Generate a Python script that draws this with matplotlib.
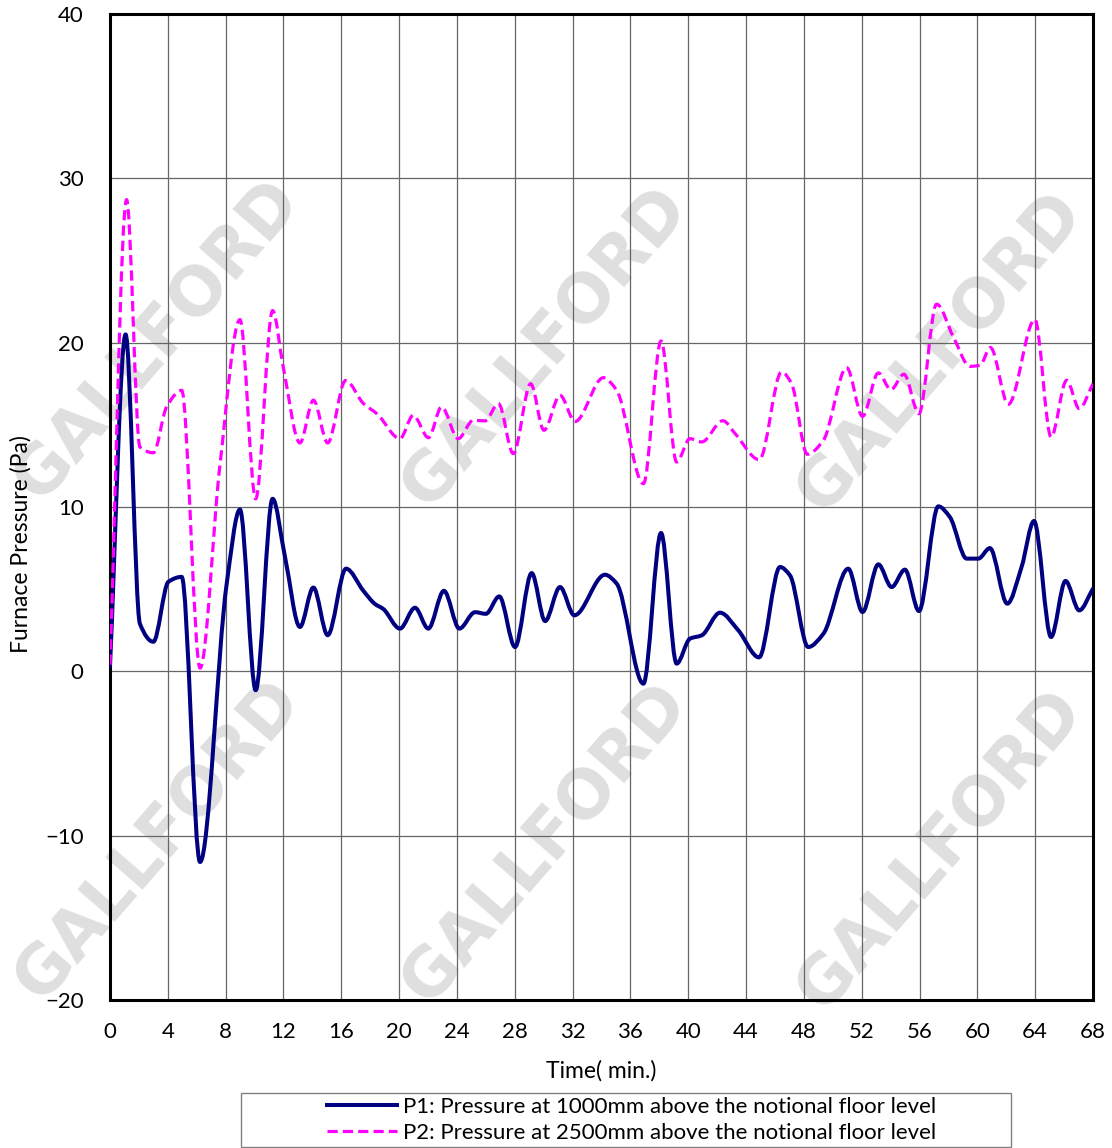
import numpy as np
import matplotlib
matplotlib.use('Agg')
from matplotlib import pyplot as plt
from matplotlib.path import Path
from matplotlib.patches import PathPatch, Rectangle
from matplotlib.lines import Line2D

plt.rcParams['font.family'] = ['Lato', 'DejaVu Sans']

# values (time in min, pressure in Pa)
t_p1 = [0.0, 1.08, 2.07, 3.0, 4.04, 4.96, 6.23, 8.07, 8.99, 10.08, 11.25, 12.1,
        13.14, 14.07, 15.06, 16.33, 17.53, 18.33, 18.9, 20.06, 21.1, 22.02, 23.1,
        24.17, 25.25, 26.0, 26.93, 28.02, 29.17, 30.1, 31.13, 32.12, 34.24, 35.05,
        36.9, 38.12, 39.2, 40.12, 40.93, 42.2, 43.46, 44.9, 46.35, 47.04, 48.3,
        49.35, 51.07, 52.06, 53.15, 54.07, 54.99, 55.96, 57.3, 58.1, 59.26, 60.07,
        60.87, 62.07, 63.06, 63.92, 65.1, 66.1, 67.05, 68.0]
p1 = [0.3, 20.5, 2.9, 1.8, 5.45, 5.75, -11.6, 5.3, 9.85, -1.15, 10.5, 7.0,
      2.7, 5.1, 2.2, 6.25, 4.9, 4.1, 3.8, 2.6, 3.87, 2.6, 4.9,
      2.6, 3.6, 3.5, 4.56, 1.48, 5.98, 3.06, 5.13, 3.41, 5.88, 5.34,
      -0.75, 8.42, 0.47, 1.99, 2.19, 3.57, 2.5, 0.85, 6.35, 5.84, 1.48,
      2.29, 6.25, 3.61, 6.51, 5.13, 6.19, 3.67, 10.04, 9.39, 6.86, 6.86,
      7.5, 4.12, 6.35, 9.15, 2.09, 5.5, 3.71, 5.03]

t_p2 = [0.0, 1.15, 2.07, 3.0, 3.92, 4.96, 6.23, 7.6, 8.99, 10.08, 11.25, 11.99,
        13.14, 14.07, 15.06, 16.3, 17.53, 18.5, 20.06, 20.98, 22.03, 22.94, 24.09,
        25.13, 25.94, 26.87, 27.9, 29.1, 30.02, 31.13, 32.17, 34.13, 35.05, 36.9,
        38.12, 39.2, 40.12, 40.93, 42.4, 43.24, 44.92, 46.46, 47.15, 48.24, 49.35,
        50.96, 52.06, 53.15, 54.02, 54.92, 55.96, 57.18, 58.34, 59.49, 60.18,
        60.91, 62.14, 63.98, 65.1, 66.18, 67.05, 68.0]
p2 = [0.4, 28.7, 13.65, 13.3, 16.1, 17.1, 0.2, 12.5, 21.4, 10.5, 21.95, 18.5,
      13.9, 16.5, 13.9, 17.7, 16.3, 15.65, 14.16, 15.58, 14.22, 16.09, 14.16,
      15.28, 15.24, 16.29, 13.25, 17.5, 14.67, 16.8, 15.2, 17.87, 17.1, 11.42,
      20.1, 12.74, 14.16, 13.96, 15.25, 14.47, 12.88, 18.22, 17.51, 13.21, 14.06,
      18.48, 15.52, 18.16, 17.14, 18.08, 15.68, 22.34, 20.35, 18.56, 18.62,
      19.7, 16.25, 21.41, 14.26, 17.71, 15.99, 17.5]

label_p1 = 'P1: Pressure at 1000mm above the notional floor level'
label_p2 = 'P2: Pressure at 2500mm above the notional floor level'
x_ticks = list(range(0, 69, 4))
y_ticks = list(range(-20, 41, 10))


def smooth_path(x, y):
    # smoothed line like the spreadsheet one: cubic bezier through the points
    x = np.asarray(x, float)
    y = np.asarray(y, float)
    h = np.diff(x)
    d = np.diff(y) / h
    m = np.zeros_like(y)
    m[0], m[-1] = d[0], d[-1]
    for i in range(1, len(y) - 1):
        if d[i - 1] * d[i] > 0:
            w1 = 2 * h[i] + h[i - 1]
            w2 = h[i] + 2 * h[i - 1]
            m[i] = (w1 + w2) / (w1 / d[i - 1] + w2 / d[i])
    verts = [(x[0], y[0])]
    codes = [Path.MOVETO]
    for i in range(len(x) - 1):
        verts += [(x[i] + h[i] / 3, y[i] + m[i] * h[i] / 3),
                  (x[i + 1] - h[i] / 3, y[i + 1] - m[i + 1] * h[i] / 3),
                  (x[i + 1], y[i + 1])]
        codes += [Path.CURVE4] * 3
    return Path(verts, codes)


fig = plt.figure(figsize=(11.12, 11.48), dpi=100)
ax = fig.add_axes([0.0989, 0.1289, 0.884, 0.8589])
ax.patch.set_visible(False)

# watermark
for cx, cy in [(157, 340), (545, 347), (940, 352),
               (158, 840), (545, 843), (940, 850)]:
    fig.text(cx / 1112, 1 - cy / 1148, 'GALLFORD', rotation=49,
             ha='center', va='center', rotation_mode='anchor',
             fontsize=48, fontweight='bold', family='DejaVu Sans',
             color='#dfdfdf', zorder=-5)

p1_style = dict(color='#000080', lw=2.9)
p2_style = dict(color='#ff00ff', lw=2.3, linestyle=(0, (3.2, 1.6)))

ax.add_patch(PathPatch(smooth_path(t_p1, p1), fill=False, zorder=3,
                       capstyle='round', joinstyle='round', **p1_style))
ax.add_patch(PathPatch(smooth_path(t_p2, p2), fill=False, zorder=3, **p2_style))

ax.set_xlim(0, 68)
ax.set_ylim(-20, 40)
ax.set_xticks(x_ticks)
ax.set_yticks(y_ticks)
ax.tick_params(length=0, labelsize=16)
ax.tick_params(axis='y', pad=19)
ax.tick_params(axis='x', pad=16)
ax.grid(True, color='#666666', lw=0.9)
ax.set_axisbelow(True)
for s in ax.spines.values():
    s.set_linewidth(2.2)
    s.set_color('black')

ax.set_xlabel('Time( min.)', fontsize=16.5)
ax.xaxis.set_label_coords(0.5, -0.061)
ax.set_ylabel('Furnace Pressure (Pa)', fontsize=16.5)
ax.yaxis.set_label_coords(-0.08, 0.4625)

handles = [Line2D([], [], **p1_style), Line2D([], [], **p2_style)]
fig.legend(handles, [label_p1, label_p2], loc='center',
           bbox_to_anchor=(0.568, 0.0245), frameon=False, fontsize=16,
           handlelength=3.15, handletextpad=0.3, labelspacing=0.24,
           borderpad=0, borderaxespad=0)
fig.patches.append(Rectangle((241 / 1112, 1 / 1148), 770 / 1112, 54 / 1148,
                             transform=fig.transFigure, fill=False,
                             edgecolor='#808080', lw=1))

plt.savefig('out.png', dpi=100)
